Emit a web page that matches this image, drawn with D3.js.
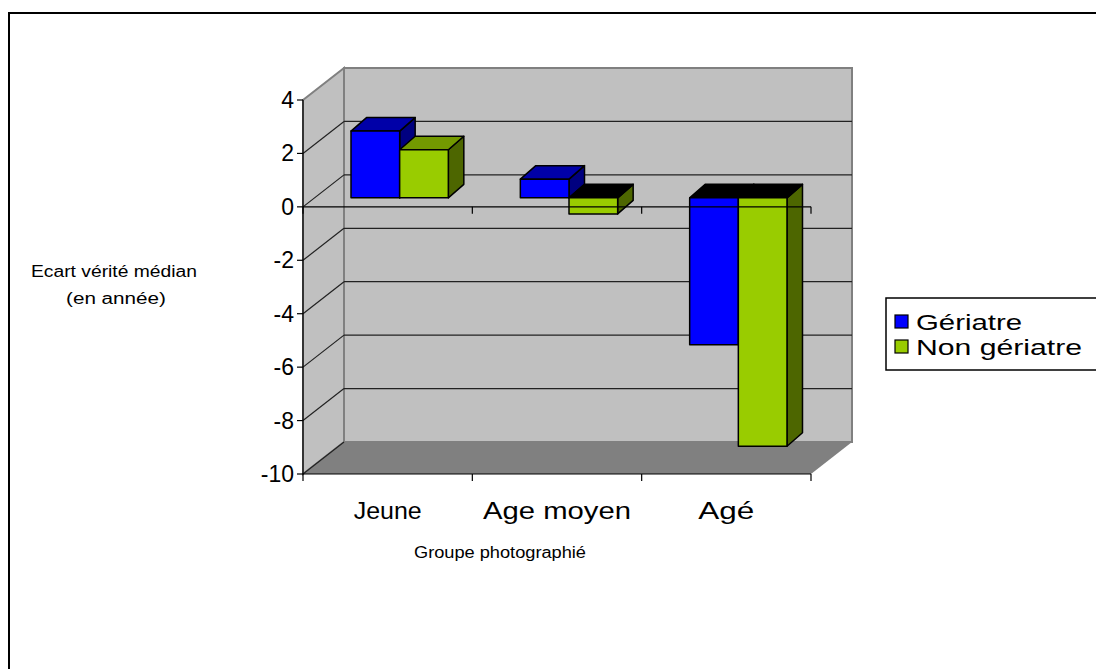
<!DOCTYPE html>
<html>
<head>
<meta charset="utf-8">
<script src="https://cdn.jsdelivr.net/npm/d3@7"></script>
<style>
  body { margin: 0; background: #fff; }
  text { font-family: Arial, "Liberation Sans", sans-serif; fill: #000; }
</style>
</head>
<body>
<div id="chart"></div>
<script>
// data
var categories = ["Jeune", "Age moyen", "Agé"];
var series = ["Gériatre", "Non gériatre"];
var geriatre = [2.5, 0.7, -5.5];
var nonGeriatre = [1.8, -0.6, -9.3];
var yTicks = [4, 2, 0, -2, -4, -6, -8, -10];

var values = [geriatre, nonGeriatre];
var colors = [
  {front: "#0000ff", top: "#0000a8", side: "#000080"},
  {front: "#99cc00", top: "#739900", side: "#4d6600"}
];
// the source text is drawn wide, so stretch it to these widths
var catWidths = [68, 148, 56];
var legendWidths = [106, 166];

var W = 1096, H = 669;
var svg = d3.select("#chart").append("svg")
  .attr("width", W)
  .attr("height", H);

// outer frame (runs off the right and bottom)
svg.append("rect")
  .attr("x", 9).attr("y", 13)
  .attr("width", 1200).attr("height", 800)
  .attr("fill", "none").attr("stroke", "#000").attr("stroke-width", 2);

// front plane scales
var x = d3.scaleBand().domain(categories).range([303, 811]);
var x1 = d3.scaleBand().domain(series).range([0, x.bandwidth()]).paddingOuter(0.74);
var y = d3.scaleLinear().domain([-10, 4]).range([474, 100]);

// depth of the box, and of the bars
var depth = {dx: 41, dy: -32};
var barFront = {dx: 12, dy: -9};
var barDepth = {dx: 15.5, dy: -13.5};

function pts(a) { return a.map(function(p) { return p.join(","); }).join(" "); }

var x0 = x.range()[0], xr = x.range()[1];
var yTop = y(4), yBot = y(-10);

// left side wall
svg.append("polygon")
  .attr("points", pts([[x0, yTop], [x0 + depth.dx, yTop + depth.dy], [x0 + depth.dx, yBot + depth.dy], [x0, yBot]]))
  .attr("fill", "#c0c0c0").attr("stroke", "#808080").attr("stroke-width", 2);
// back wall
svg.append("rect")
  .attr("x", x0 + depth.dx).attr("y", yTop + depth.dy)
  .attr("width", xr - x0).attr("height", yBot - yTop)
  .attr("fill", "#c0c0c0").attr("stroke", "#808080").attr("stroke-width", 2);
// floor
svg.append("polygon")
  .attr("points", pts([[x0, yBot], [xr, yBot], [xr + depth.dx, yBot + depth.dy], [x0 + depth.dx, yBot + depth.dy]]))
  .attr("fill", "#808080");

// gridlines on the back and side walls
var grid = svg.append("g").attr("stroke", "#222").attr("stroke-width", 1.2);
yTicks.slice(1, -1).forEach(function(v) {
  grid.append("line")
    .attr("x1", x0 + depth.dx).attr("x2", xr + depth.dx)
    .attr("y1", y(v) + depth.dy).attr("y2", y(v) + depth.dy);
});
yTicks.slice(1).forEach(function(v) {
  grid.append("line")
    .attr("x1", x0).attr("x2", x0 + depth.dx)
    .attr("y1", y(v)).attr("y2", y(v) + depth.dy);
});

// bars
var bars = svg.append("g").attr("stroke", "#000").attr("stroke-width", 1.5).attr("stroke-linejoin", "round");
categories.forEach(function(c, i) {
  series.forEach(function(s, j) {
    var v = values[j][i];
    var bx = x(c) + x1(s) + barFront.dx;
    var bw = x1.bandwidth();
    var yz = y(0) + barFront.dy, yv = y(v) + barFront.dy;
    var yt = Math.min(yz, yv), yb = Math.max(yz, yv);
    var ddx = barDepth.dx, ddy = barDepth.dy;
    // right side
    bars.append("polygon")
      .attr("points", pts([[bx + bw, yt], [bx + bw + ddx, yt + ddy], [bx + bw + ddx, yb + ddy], [bx + bw, yb]]))
      .attr("fill", colors[j].side);
    // top
    bars.append("polygon")
      .attr("points", pts([[bx, yt], [bx + ddx, yt + ddy], [bx + bw + ddx, yt + ddy], [bx + bw, yt]]))
      .attr("fill", v < 0 ? "#000" : colors[j].top);
    // front
    bars.append("rect")
      .attr("x", bx).attr("y", yt)
      .attr("width", bw).attr("height", yb - yt)
      .attr("fill", colors[j].front);
  });
});

// value axis
var yAxis = svg.append("g").attr("stroke", "#000").attr("stroke-width", 1.2);
yAxis.append("line").attr("x1", x0).attr("x2", x0).attr("y1", yTop).attr("y2", yBot);
yTicks.forEach(function(v) {
  yAxis.append("line").attr("x1", x0 - 6).attr("x2", x0).attr("y1", y(v)).attr("y2", y(v));
});
svg.append("g").selectAll("text")
  .data(yTicks).enter().append("text")
  .attr("x", x0 - 9).attr("y", function(d) { return y(d); })
  .attr("dy", "0.35em").attr("text-anchor", "end")
  .style("font-size", "23px")
  .text(function(d) { return d; });

// category axis at zero and at the floor edge
var catEdges = categories.map(function(c) { return x(c); }).concat([xr]);
[0, -10].forEach(function(v) {
  var g = svg.append("g").attr("stroke", "#000").attr("stroke-width", 1.2);
  g.append("line").attr("x1", x0).attr("x2", xr).attr("y1", y(v)).attr("y2", y(v));
  catEdges.forEach(function(e) {
    g.append("line").attr("x1", e).attr("x2", e).attr("y1", y(v)).attr("y2", y(v) + 7);
  });
});

svg.append("g").selectAll("text")
  .data(categories).enter().append("text")
  .attr("x", function(d) { return x(d) + x.bandwidth() / 2; })
  .attr("y", yBot + 45)
  .attr("text-anchor", "middle")
  .attr("textLength", function(d, i) { return catWidths[i]; })
  .attr("lengthAdjust", "spacingAndGlyphs")
  .style("font-size", "23px")
  .text(function(d) { return d; });

// axis titles
svg.append("text")
  .attr("x", 500).attr("y", 558)
  .attr("text-anchor", "middle")
  .attr("textLength", 172).attr("lengthAdjust", "spacingAndGlyphs")
  .style("font-size", "16px")
  .text("Groupe photographié");
svg.append("text")
  .attr("x", 114).attr("y", 277)
  .attr("text-anchor", "middle")
  .attr("textLength", 166).attr("lengthAdjust", "spacingAndGlyphs")
  .style("font-size", "16px")
  .text("Ecart vérité médian");
svg.append("text")
  .attr("x", 116).attr("y", 304)
  .attr("text-anchor", "middle")
  .attr("textLength", 100).attr("lengthAdjust", "spacingAndGlyphs")
  .style("font-size", "16px")
  .text("(en année)");

// legend
var legend = svg.append("g");
legend.append("rect")
  .attr("x", 886).attr("y", 298)
  .attr("width", 230).attr("height", 72)
  .attr("fill", "#fff").attr("stroke", "#000").attr("stroke-width", 1.5);
series.forEach(function(s, j) {
  legend.append("rect")
    .attr("x", 895).attr("y", 315 + j * 25)
    .attr("width", 13).attr("height", 13)
    .attr("fill", colors[j].front).attr("stroke", "#000").attr("stroke-width", 1.2);
  legend.append("text")
    .attr("x", 916).attr("y", 330 + j * 25)
    .attr("textLength", legendWidths[j]).attr("lengthAdjust", "spacingAndGlyphs")
    .style("font-size", "22px")
    .text(s);
});
</script>
</body>
</html>
